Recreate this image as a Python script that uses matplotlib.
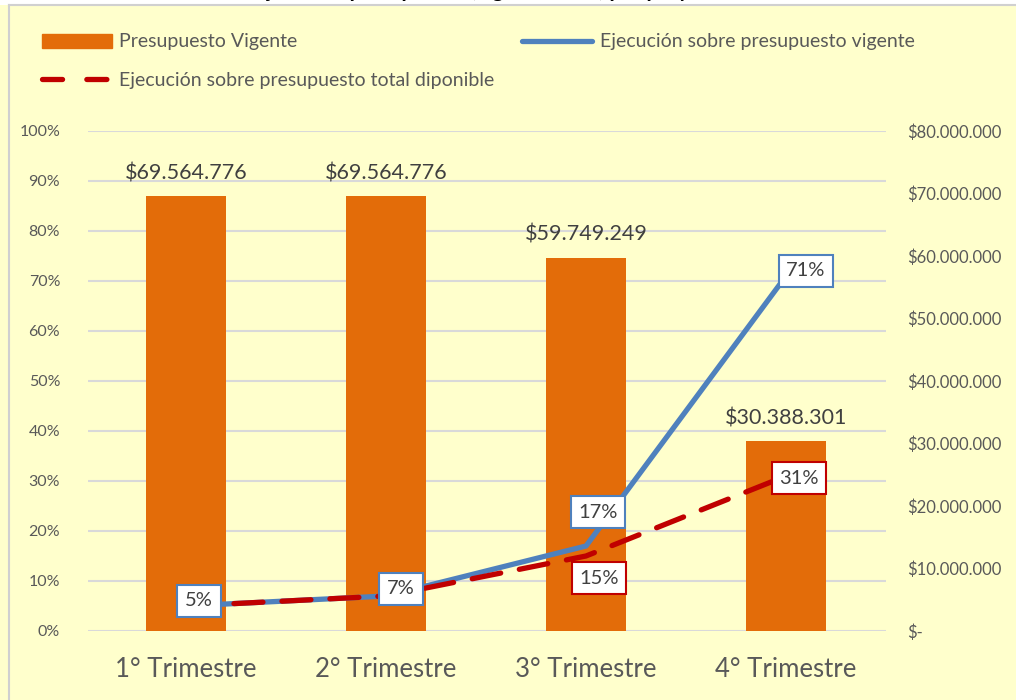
import numpy as np
import matplotlib.pyplot as plt
from matplotlib.patches import Rectangle
from matplotlib.lines import Line2D

plt.rcParams['font.family'] = ['Lato', 'DejaVu Sans']

trimestres = ['1° Trimestre', '2° Trimestre', '3° Trimestre', '4° Trimestre']
presupuesto = [69564776, 69564776, 59749249, 30388301]
ejec_vigente = [0.05, 0.07, 0.17, 0.71]
ejec_total = [0.05, 0.07, 0.15, 0.31]
label_total = [False, False, True, True]

c_bar = '#E36C09'
c_blue = '#4F81BD'
c_red = '#C00000'
c_bg = '#FFFFCC'
c_txt = '#595959'

def pesos(v):
    return '$' + format(v, ',').replace(',', '.')

fig = plt.figure(figsize=(10.16, 7.0), dpi=100, facecolor=c_bg)
# white strip + chart border at the top, title only partly visible
fig.patches.append(Rectangle((0, 1 - 5/700), 1, 5/700, transform=fig.transFigure,
                             facecolor='white', edgecolor='none', zorder=0))
fig.lines.append(Line2D([9/1016, 9/1016], [0, 1 - 5/700], transform=fig.transFigure,
                        color='#D0D0D0', lw=1.5))
fig.lines.append(Line2D([9/1016, 1], [1 - 5/700, 1 - 5/700], transform=fig.transFigure,
                        color='#D0D0D0', lw=1.5))
fig.text(0.57, 1 + 3/700, 'Ejecución presupuesto (vigente/total) por proyecto de inversión 2021',
         ha='center', va='baseline', fontsize=15, fontweight='bold', color='black')

ax = fig.add_axes([88/1016, 69/700, 798/1016, 500/700])
ax.set_facecolor('none')
ax2 = ax.twinx()
ax.set_zorder(2)
ax2.set_zorder(1)
ax.patch.set_visible(False)

x = np.arange(len(trimestres))

# bars on secondary axis
bars = ax2.bar(x, presupuesto, width=0.4, color=c_bar, zorder=2)
for xi, v in zip(x, presupuesto):
    ax2.annotate(pesos(v), (xi, v), xytext=(0, 13), textcoords='offset pixels',
                 ha='center', va='bottom', fontsize=15.5, color='#404040')
ax2.set_ylim(0, 80000000)
ax2.set_yticks(np.arange(0, 80000001, 10000000))
ax2.set_yticklabels(['$-'] + [pesos(v) for v in range(10000000, 80000001, 10000000)])
ax2.tick_params(axis='y', length=0, pad=15, labelsize=12, labelcolor=c_txt)

# grid on primary
ax.set_xlim(-0.49, 3.5)
ax.set_ylim(0, 1)
ax.set_yticks(np.arange(0, 1.01, 0.1))
ax.set_yticklabels([f'{int(round(v*100))}%' for v in np.arange(0, 1.01, 0.1)])
ax.tick_params(axis='y', length=0, pad=20, labelsize=11.5, labelcolor=c_txt)
ax.set_xticks(x)
ax.set_xticklabels(trimestres)
ax.tick_params(axis='x', length=0, pad=19, labelsize=18.5, labelcolor=c_txt)
ax2.grid(False)
for y in np.arange(0, 1.01, 0.1):
    ax2.axhline(y * 80000000, color='#D9D9D9', lw=1.5, zorder=0)
for a in (ax, ax2):
    for s in a.spines.values():
        s.set_visible(False)

ax.plot(x, ejec_vigente, color=c_blue, lw=3.8, solid_capstyle='round', zorder=3)
ax.plot(x, ejec_total, color=c_red, lw=3.8, dashes=(5.5, 3.6), dash_capstyle='round', zorder=4)

off_blue = [(13, 5), (15, 7), (12, 34), (20, 5)]
off_red = [(0, 0), (0, 0), (13, -22), (13, -2)]
for i in range(len(x)):
    ax.annotate(f'{int(round(ejec_vigente[i]*100))}%', (x[i], ejec_vigente[i]),
                xytext=off_blue[i], textcoords='offset pixels', ha='center', va='center',
                fontsize=14.5, color='#404040', zorder=6,
                bbox=dict(boxstyle='square,pad=0.38', fc='white', ec=c_blue, lw=1.5))
    if label_total[i]:
        ax.annotate(f'{int(round(ejec_total[i]*100))}%', (x[i], ejec_total[i]),
                    xytext=off_red[i], textcoords='offset pixels', ha='center', va='center',
                    fontsize=14.5, color='#404040', zorder=6,
                    bbox=dict(boxstyle='square,pad=0.38', fc='white', ec=c_red, lw=1.5))

handles = [
    Rectangle((0, 0), 1, 1, color=c_bar),
    Line2D([], [], color=c_red, lw=3.8, dashes=(3.8, 4.6), dash_capstyle='round'),
    Line2D([], [], color=c_blue, lw=3.8, solid_capstyle='round'),
]
labels = ['Presupuesto Vigente', 'Ejecución sobre presupuesto total diponible',
          'Ejecución sobre presupuesto vigente']
fig.legend(handles, labels, ncol=2, loc='upper left', bbox_to_anchor=(24/1016, 1 - 16/700),
           frameon=False, fontsize=14, labelcolor=c_txt, handlelength=3.6,
           handleheight=0.7, handletextpad=0.4, columnspacing=1.4, labelspacing=1.1)

fig.savefig('out.png', dpi=100, facecolor=c_bg)
